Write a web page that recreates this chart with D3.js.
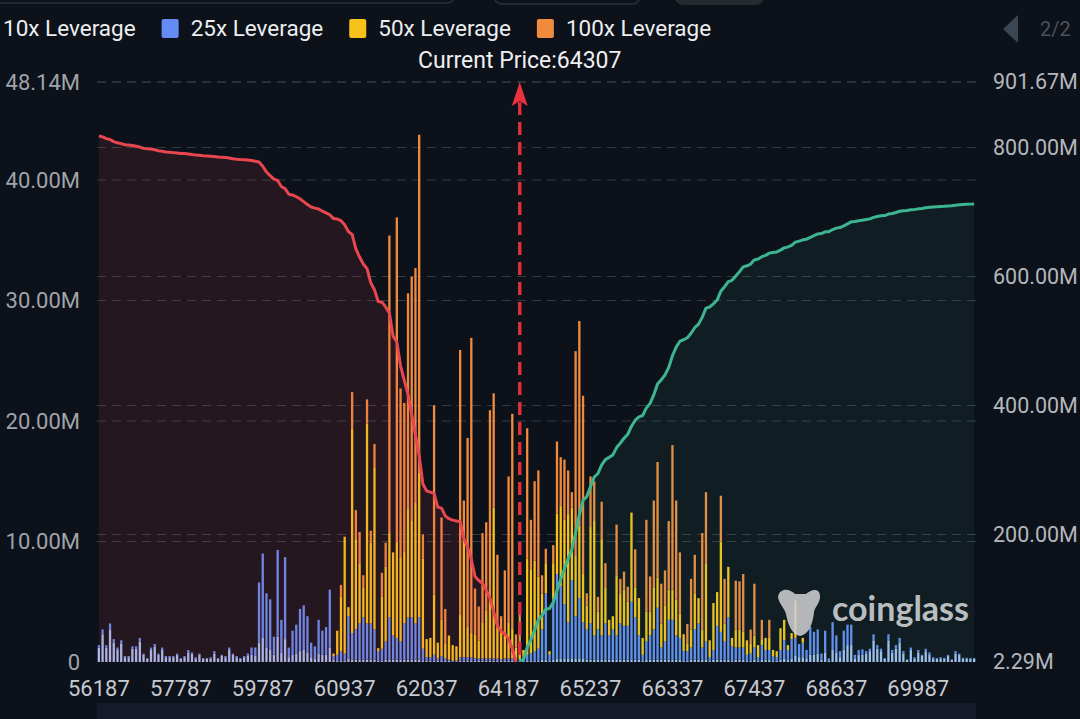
<!DOCTYPE html>
<html>
<head>
<meta charset="utf-8">
<script src="https://cdn.jsdelivr.net/npm/d3@7"></script>
<style>
  html, body { margin: 0; padding: 0; background: #0d1119; }
  svg { display: block; font-family: Roboto, "Noto Sans", sans-serif; }
</style>
</head>
<body>
<svg id="liq-svg" width="1080" height="719"></svg>
<script>
// price levels (x categories)
const prices = [
  56187, 56237, 56287, 56387, 56437, 56537, 56587, 56687, 56737, 56837, 56887, 56987, 57037, 57137, 57187, 57287, 57337, 57437, 57487, 57587, 57637, 57737, 57787,
  57887, 57987, 58087, 58137, 58237, 58337, 58437, 58487, 58587, 58687, 58787, 58837, 58937, 59037, 59137, 59187, 59287, 59387, 59487, 59587, 59687, 59787,
  59837, 59887, 59937, 59987, 60037, 60087, 60137, 60187, 60237, 60287, 60337, 60387, 60437, 60487, 60537, 60587, 60637, 60687, 60737, 60787, 60887, 60937,
  60987, 61037, 61087, 61137, 61187, 61237, 61287, 61337, 61387, 61437, 61487, 61537, 61587, 61637, 61687, 61737, 61787, 61837, 61887, 61937, 61987, 62037,
  62087, 62187, 62287, 62387, 62487, 62587, 62687, 62787, 62887, 62987, 63087, 63187, 63287, 63387, 63487, 63587, 63687, 63787, 63887, 63987, 64087, 64187,
  64237, 64287, 64337, 64387, 64437, 64487, 64537, 64587, 64637, 64687, 64737, 64787, 64837, 64887, 64937, 64987, 65037, 65087, 65137, 65187, 65212, 65237,
  65287, 65337, 65387, 65437, 65487, 65537, 65587, 65637, 65687, 65737, 65787, 65837, 65887, 65937, 65987, 66037, 66087, 66137, 66187, 66237, 66287, 66337,
  66387, 66437, 66487, 66537, 66587, 66637, 66687, 66737, 66787, 66837, 66887, 66937, 66987, 67037, 67087, 67137, 67187, 67237, 67287, 67337, 67387, 67437,
  67487, 67537, 67587, 67637, 67687, 67737, 67787, 67837, 67887, 67937, 67987, 68037, 68087, 68137, 68187, 68237, 68287, 68337, 68387, 68437, 68537, 68637,
  68687, 68737, 68787, 68887, 68937, 68987, 69087, 69137, 69187, 69287, 69337, 69387, 69487, 69537, 69587, 69687, 69737, 69787, 69837, 69887, 69937, 69987,
  70037, 70087, 70137, 70187, 70237, 70287, 70337, 70387, 70437, 70487, 70537, 70587, 70637, 70687, 70737
];

// liquidation volume per level, millions
const lev10 = [
  1.2, 2.3, 1.2, 2.7, 1.6, 1.0, 1.5, 0.4, 0.4, 1.1,
  1.1, 1.7, 0.6, 0.3, 1.0, 1.3, 0.6, 1.0, 0.4, 0.4,
  0.4, 0.6, 0.3, 0.4, 0.8, 0.7, 0.3, 0.6, 0.3, 0.3,
  0.3, 0.7, 0.3, 0.5, 0.4, 1.0, 0.6, 0.4, 0.3, 0.4,
  0.5, 0.6, 0.5, 1.6, 2.0, 1.2, 1.0, 0.6, 2.1, 0.8,
  1.9, 0.4, 0.6, 0.7, 0.9, 1.0, 0.8, 0.4, 0.3, 0.7,
  0.6, 0.6, 1.2, 0.2, 0.1, 0.1, 0.1, 0.3, 0.2, 0.2,
  0.2, 0.2, 0.2, 0.2, 0.2, 0.1, 0.1, 0.2, 0.2, 0.2,
  0.2, 0.2, 0.2, 0.2, 0.2, 0.2, 0.2, 0.1, 0.1, 0.1,
  0.1, 0.1, 0.1, 0.1, 0.1, 0, 0, 0.1, 0.1, 0.1,
  0.1, 0.1, 0.1, 0.1, 0.1, 0.1, 0.1, 0.1, 0.1, 0.1,
  0.1, 0.1, 0, 0, 0.1, 0.1, 0.1, 0.1, 0.1, 0.2,
  0.2, 0.1, 0.2, 0.3, 0.3, 0.3, 0.3, 0.3, 0.3, 0.3,
  0.3, 0.2, 0.2, 0.2, 0.2, 0.2, 0.2, 0.2, 0.2, 0.2,
  0.2, 0.2, 0.2, 0.2, 0.2, 0.2, 0.1, 0.2, 0.2, 0.2,
  0.2, 0.2, 0.2, 0.2, 0.2, 0.2, 0.2, 0.1, 0.1, 0.2,
  0.2, 0.2, 0.2, 0.2, 0.1, 0.2, 0.2, 0.2, 0.2, 0.2,
  0.1, 0.2, 0.2, 0.2, 0.1, 0.1, 0.2, 0.1, 0.2, 0.2,
  0.2, 0.1, 0.1, 0.2, 0.3, 0.2, 0.3, 0.5, 0.4, 0.4,
  0.3, 0.6, 0.6, 0.7, 0.2, 0.8, 0.1, 1.0, 0.8, 0.4,
  1.0, 1.4, 1.4, 0.3, 0.6, 0.6, 0.7, 0.9, 1.8, 1.1,
  0.9, 0.3, 1.8, 0.8, 1.1, 1.6, 0.7, 0.2, 1.0, 0.3,
  0.8, 0.5, 0.9, 0.6, 0.3, 0.3, 0.3, 0.3, 0.5, 0.2,
  0.7, 0.6, 0.3, 0.3, 0.3, 0.3
];
const lev25 = [
  0.2, 0.4, 0.2, 0.5, 0.3, 0.2, 0.3, 0.1, 0.1, 0.2,
  0.2, 0.3, 0.1, 0, 0.2, 0.2, 0.1, 0.2, 0.1, 0.1,
  0.1, 0.1, 0, 0.1, 0.2, 0.1, 0.1, 0.1, 0, 0,
  0.1, 0.2, 0, 0.1, 0.1, 0.2, 0.1, 0.1, 0, 0.1,
  0.2, 0.6, 0.7, 5.0, 7.0, 4.5, 4.2, 1.5, 7.2, 2.7,
  6.8, 0.8, 2.0, 2.4, 3.5, 3.7, 3.0, 1.2, 1.0, 2.8,
  2.0, 2.3, 4.8, 0.3, 0.5, 0.8, 0.6, 3.5, 2.2, 2.5,
  3.0, 3.5, 3.0, 3.0, 2.5, 0.8, 1.0, 1.5, 3.5, 2.0,
  1.8, 1.5, 3.0, 3.5, 3.5, 3.0, 3.5, 1.0, 0.3, 0.3,
  0.5, 0.2, 0.4, 0.2, 0.1, 0.1, 0.1, 0.3, 0.3, 0.3,
  0.3, 0.2, 0.2, 0.2, 0.2, 0.2, 0.2, 0.2, 0.1, 0.2,
  0.2, 0.2, 0.1, 0.2, 0.3, 0.5, 0.6, 0.8, 1.0, 2.5,
  5.5, 0.5, 5.0, 7.0, 6.0, 4.5, 3.0, 6.5, 3.5, 5.0,
  3.0, 2.5, 3.0, 2.0, 2.5, 2.0, 3.0, 2.0, 2.5, 2.0,
  3.0, 2.8, 2.8, 4.8, 3.5, 2.0, 0.5, 1.5, 2.0, 2.5,
  4.3, 1.0, 1.5, 3.3, 3.3, 2.0, 1.8, 0.8, 0.8, 1.0,
  2.5, 3.0, 1.0, 1.5, 0.3, 0.8, 2.8, 2.3, 1.5, 3.5,
  1.2, 1.0, 1.0, 1.0, 0.5, 0.6, 1.0, 0.3, 1.2, 0.8,
  0.8, 0.4, 0.3, 0.8, 1.5, 0.8, 1.6, 1.5, 1.1, 1.2,
  0.7, 2.3, 1.9, 2.0, 0.5, 1.8, 0.2, 2.3, 1.4, 0.5,
  1.6, 1.7, 1.7, 0.3, 0.4, 0.45, 0.2, 0.2, 0.5, 0.3,
  0.2, 0, 0.5, 0.2, 0.3, 0.4, 0.2, 0, 0.2, 0.1,
  0.2, 0.1, 0.2, 0.2, 0.1, 0, 0.1, 0.05, 0.1, 0,
  0.2, 0.1, 0.05, 0.05, 0, 0
];
const lev50 = [
  0, 0, 0, 0, 0, 0, 0, 0, 0, 0,
  0, 0, 0, 0, 0, 0, 0, 0, 0, 0,
  0, 0, 0, 0, 0, 0, 0, 0, 0, 0,
  0, 0, 0, 0, 0, 0, 0, 0, 0, 0,
  0, 0, 0, 0, 0, 0, 0, 0, 0, 0,
  0, 0, 0, 0, 0, 0, 0, 0, 0, 0,
  0, 0, 0, 0.2, 2.0, 4.5, 9.7, 0.75, 17.0, 7.5,
  5.0, 2.5, 16.6, 6.7, 13.4, 0.25, 4.3, 6.2, 7.0, 6.9,
  8.0, 7.0, 6.0, 9.0, 8.0, 10.0, 12.0, 7.5, 1.5, 1.6,
  5.0, 1.3, 3.0, 1.2, 2.0, 1.3, 1.2, 3.5, 10.0, 2.5,
  2.0, 2.0, 1.5, 3.0, 4.0, 5.0, 12.5, 3.0, 2.5, 2.0,
  3.0, 2.5, 1.09, 1.5, 0.6, 8.0, 7.0, 7.5, 6.0, 3.0,
  2.5, 0.3, 3.0, 5.0, 6.7, 7.0, 9.0, 6.0, 5.0, 6.0,
  4.0, 2.0, 8.0, 9.5, 1.5, 8.0, 3.0, 1.3, 1.1, 5.0,
  2.5, 3.0, 2.0, 7.4, 2.5, 3.1, 1.4, 2.5, 2.0, 3.5,
  2.5, 2.0, 3.0, 2.5, 2.5, 3.0, 2.0, 1.4, 0.6, 1.5,
  3.0, 2.1, 1.5, 6.5, 1.4, 3.9, 2.8, 7.5, 1.5, 4.2,
  0.7, 1.5, 1.5, 1.3, 1.2, 0.8, 1.0, 1.0, 0.5, 1.0,
  1.0, 0.5, 0.5, 1.8, 1.7, 0.4, 0.5, 3.1, 0, 0.4,
  0, 0, 0, 0, 0, 0, 0, 0, 0, 0,
  0, 0, 0, 0, 0, 0, 0, 0, 0, 0,
  0, 0, 0, 0, 0, 0, 0, 0, 0, 0,
  0, 0, 0, 0, 0, 0, 0, 0, 0, 0,
  0, 0, 0, 0, 0, 0
];
const lev100 = [
  0, 0, 0, 0, 0, 0, 0, 0, 0, 0,
  0, 0, 0, 0, 0, 0, 0, 0, 0, 0,
  0, 0, 0, 0, 0, 0, 0, 0, 0, 0,
  0, 0, 0, 0, 0, 0, 0, 0, 0, 0,
  0, 0, 0, 0, 0, 0, 0, 0, 0, 0,
  0, 0, 0, 0, 0, 0, 0, 0, 0, 0,
  0, 0, 0, 0, 0, 1.0, 0, 0, 3.0, 2.4,
  2.6, 1.0, 2.0, 1.0, 2.0, 0, 2.0, 2.0, 24.7, 0,
  26.9, 14.0, 12.3, 17.9, 20.3, 19.5, 28.06, 2.0, 0, 0,
  15.7, 0, 8.5, 2.9, 0, 0, 0, 22.0, 3.0, 15.7,
  24.5, 3.8, 2.8, 7.4, 7.3, 15.6, 9.5, 5.6, 1.1, 5.3,
  12.1, 17.8, 1.1, 2.8, 0, 10.8, 4.1, 6.6, 8.8, 1.5,
  1.2, 0, 1.5, 6.0, 4.0, 5.0, 3.6, 1.3, 17.0, 17.0,
  14.8, 1.0, 4.2, 3.3, 1.2, 3.1, 2.0, 0, 0, 4.2,
  1.2, 1.5, 1.25, 0, 3.15, 0, 0, 7.6, 2.9, 7.2,
  9.6, 3.3, 2.9, 5.7, 12.0, 8.2, 5.1, 0, 1.65, 4.2,
  3.2, 0, 8.0, 5.9, 0, 0, 0, 3.8, 3.7, 0,
  0, 4.05, 4.0, 4.8, 0, 1.2, 4.3, 0, 1.6, 0,
  1.5, 0, 0, 0, 0, 0, 0, 0, 0, 0,
  0, 0, 0, 0, 0, 0, 0, 0, 0, 0,
  0, 0, 0, 0, 0, 0, 0, 0, 0, 0,
  0, 0, 0, 0, 0, 0, 0, 0, 0, 0,
  0, 0, 0, 0, 0, 0, 0, 0, 0, 0,
  0, 0, 0, 0, 0, 0
];

const seriesNames = ['10x Leverage', '25x Leverage', '50x Leverage', '100x Leverage'];
const seriesColors = ['#a3c0f5', '#648cf4', '#f7c31a', '#f08a3c'];
const leftTicks = [0, 10, 20, 30, 40, 48.14];
const rightTicks = [2.29, 200, 400, 600, 800, 901.67];
const currentPrice = 64307;
const currentPriceCategory = 64337;
const labelEvery = 22;

const svg = d3.select('#liq-svg');
const width = +svg.attr('width');
const height = +svg.attr('height');
const margin = { top: 82, right: 104, bottom: 57, left: 97 };
const innerWidth = width - margin.left - margin.right;
const innerHeight = height - margin.top - margin.bottom;

svg.append('rect').attr('width', width).attr('height', height).attr('fill', '#0d1119');

// cut-off toolbar bits at the very top
svg.append('rect').attr('x', -10).attr('y', -30).attr('width', 465).attr('height', 33).attr('rx', 8)
    .attr('fill', 'none').attr('stroke', '#2a2f38').attr('stroke-width', 1.5);
svg.append('rect').attr('x', 494).attr('y', -30).attr('width', 146).attr('height', 34).attr('rx', 8)
    .attr('fill', 'none').attr('stroke', '#2a2f38').attr('stroke-width', 1.5);
svg.append('rect').attr('x', 675).attr('y', -30).attr('width', 89).attr('height', 35).attr('rx', 8)
    .attr('fill', '#262a31');

// legend (scrolled, so the first swatch sits off screen)
const legend = svg.append('g').attr('transform', 'translate(-26, 0)');
let lx = 0;
seriesNames.forEach((name, i) => {
    const item = legend.append('g').attr('transform', `translate(${lx}, 0)`);
    item.append('rect')
        .attr('x', 0).attr('y', 19).attr('width', 17).attr('height', 19).attr('rx', 2)
        .attr('fill', seriesColors[i]);
    const t = item.append('text')
        .attr('x', 29).attr('y', 36)
        .attr('fill', '#eceef0')
        .style('font-size', '22.5px')
        .text(name);
    lx += 29 + t.node().getComputedTextLength() + 26;
});

// pager
svg.append('path').attr('d', 'M1003,29 L1018,15 L1018,43 Z').attr('fill', '#3a4752');
svg.append('text').attr('x', 1040).attr('y', 36).attr('fill', '#4b5159')
    .style('font-size', '20px').text('2/2');

const g = svg.append('g').attr('transform', `translate(${margin.left}, ${margin.top})`);

const table = prices.map((p, i) => ({ price: p, lev10: lev10[i], lev25: lev25[i], lev50: lev50[i], lev100: lev100[i] }));
const keys = ['lev10', 'lev25', 'lev50', 'lev100'];
const stacked = d3.stack().keys(keys)(table);

const xScale = d3.scaleBand()
    .domain(prices)
    .range([0, innerWidth])
    .paddingInner(0.38)
    .paddingOuter(0.19);
const bw = xScale.bandwidth();
const xMid = p => xScale(p) + bw / 2;

const yLeft = d3.scaleLinear().domain([0, 48.14]).range([innerHeight, 0]);
const yRight = d3.scaleLinear().domain([2.29, 901.67]).range([innerHeight, 0]);

// grid lines for both axes
const gridG = g.append('g');
leftTicks.filter(d => d > 0).forEach(d => {
    gridG.append('line').attr('x1', 0).attr('x2', innerWidth)
        .attr('y1', yLeft(d)).attr('y2', yLeft(d));
});
rightTicks.filter(d => d > rightTicks[0]).forEach(d => {
    gridG.append('line').attr('x1', 0).attr('x2', innerWidth)
        .attr('y1', yRight(d)).attr('y2', yRight(d));
});
gridG.selectAll('line')
    .attr('stroke', '#363b45').attr('stroke-width', 1).attr('stroke-dasharray', '9,6');

// stacked bars
g.selectAll('.layer').data(stacked)
    .enter().append('g')
    .attr('class', 'layer')
    .attr('fill', (d, i) => seriesColors[i])
    .selectAll('rect').data(d => d.filter(s => s[1] - s[0] > 0))
    .enter().append('rect')
    .attr('x', d => xScale(d.data.price))
    .attr('width', bw)
    .attr('y', d => yLeft(d[1]))
    .attr('height', d => yLeft(d[0]) - yLeft(d[1]));

// cumulative liquidation lines (longs below price, shorts above)
const totals = table.map(d => keys.reduce((s, k) => s + d[k], 0));
const split = prices.findIndex(p => p > currentPrice);
const longCum = Array.from(d3.cumsum(totals.slice(0, split).reverse())).reverse();
const shortCum = Array.from(d3.cumsum(totals.slice(split)));
const longPts = prices.slice(0, split).map((p, i) => ({ price: p, value: longCum[i] }));
const shortPts = prices.slice(split).map((p, i) => ({ price: p, value: shortCum[i] }));

const area = d3.area().x(d => xMid(d.price)).y0(innerHeight).y1(d => yRight(d.value));
const line = d3.line().x(d => xMid(d.price)).y(d => yRight(d.value));

g.append('path').datum(longPts).attr('d', area).attr('fill', 'rgba(229,71,79,0.11)');
g.append('path').datum(shortPts).attr('d', area).attr('fill', 'rgba(60,190,150,0.08)');
g.append('path').datum(longPts).attr('d', line)
    .attr('fill', 'none').attr('stroke', '#e8474f').attr('stroke-width', 3).attr('stroke-linejoin', 'round');
g.append('path').datum(shortPts).attr('d', line)
    .attr('fill', 'none').attr('stroke', '#3db591').attr('stroke-width', 3).attr('stroke-linejoin', 'round');

// current price marker
const xc = xMid(currentPriceCategory);
g.append('line')
    .attr('x1', xc).attr('x2', xc).attr('y1', 20).attr('y2', innerHeight)
    .attr('stroke', '#d9303c').attr('stroke-width', 3.5).attr('stroke-dasharray', '13,7');
g.append('path')
    .attr('d', `M${xc},0 L${xc + 8},24 L${xc},19 L${xc - 8},24 Z`)
    .attr('fill', '#e8323e');
g.append('text')
    .attr('x', xc).attr('y', -14)
    .attr('text-anchor', 'middle')
    .attr('fill', '#eef0f2')
    .style('font-size', '23px')
    .text(`Current Price:${currentPrice}`);

// axes
const fmtM = d => d === 0 ? '0' : d3.format('.2f')(d) + 'M';
const yAxisL = g.append('g')
    .call(d3.axisLeft(yLeft).tickValues(leftTicks).tickFormat(fmtM).tickSize(0).tickPadding(17));
const yAxisR = g.append('g')
    .attr('transform', `translate(${innerWidth}, 0)`)
    .call(d3.axisRight(yRight).tickValues(rightTicks).tickFormat(fmtM).tickSize(0).tickPadding(17));
const xAxisG = g.append('g')
    .attr('transform', `translate(0, ${innerHeight})`)
    .call(d3.axisBottom(xScale).tickValues(prices.filter((d, i) => i % labelEvery === 0)).tickSize(0).tickPadding(18));

[yAxisL, yAxisR, xAxisG].forEach(a => {
    a.select('.domain').remove();
    a.selectAll('text').style('font-family', 'Roboto, sans-serif').style('font-size', '22px');
});
yAxisR.selectAll('text').style('font-size', '21.5px');
yAxisL.selectAll('text').attr('fill', '#9fa3ab');
yAxisR.selectAll('text').attr('fill', '#b3b7be');
xAxisG.selectAll('text').attr('fill', '#c6cad1');

// slider strip under the axis
svg.append('rect').attr('x', margin.left).attr('y', 703).attr('width', innerWidth).attr('height', 16)
    .attr('fill', '#141a2a');

// watermark
const wm = svg.append('g').attr('opacity', 0.86);
wm.append('path')
    .attr('d', 'M778,597 C780,587 790,589 795,594 L806,594 C811,589 821,587 820,598 C819,604 815,607 814,612 C813,622 810,634 800,636 C791,634 788,624 786,614 C784,607 779,604 778,597 Z')
    .attr('fill', '#cfd0d2');
wm.append('text')
    .attr('x', 832).attr('y', 621)
    .attr('fill', '#d6d8da')
    .style('font-family', 'Lato, sans-serif')
    .style('font-weight', 'bold')
    .style('font-size', '34px')
    .text('coinglass');
</script>
</body>
</html>
